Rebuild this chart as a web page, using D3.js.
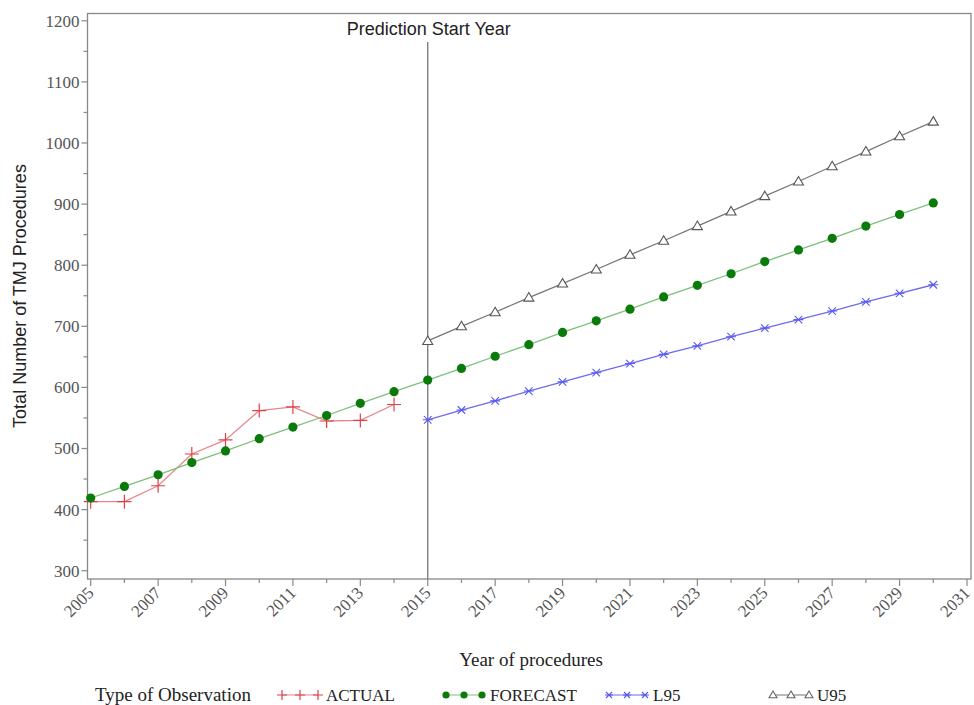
<!DOCTYPE html>
<html><head><meta charset="utf-8">
<script src="https://cdn.jsdelivr.net/npm/d3@7"></script>
<style>body{margin:0;background:#fff}</style>
</head><body>
<svg id="c" width="974" height="705"></svg>
<script>
const actualYears = [2005,2006,2007,2008,2009,2010,2011,2012,2013,2014];
const actualValues = [413,413,439,491,514,562,568,545,546,572];
const forecastYears = d3.range(2005, 2031);
const forecastValues = [419,438,457,477,496,516,535,554,574,593,612,631,651,670,690,709,728,748,767,786,806,825,844,864,883,902];
const boundYears = d3.range(2015, 2031);
const l95Values = [547,563,578,594,609,624,639,654,668,683,697,711,725,740,754,768];
const u95Values = [676,700,723,747,770,793,817,840,864,888,913,937,962,986,1011,1035];
const xTicks = [2005,2007,2009,2011,2013,2015,2017,2019,2021,2023,2025,2027,2029,2031];
const yTicks = [300,400,500,600,700,800,900,1000,1100,1200];
const predictionYear = 2015;

const svg = d3.select("#c");
const x = d3.scaleLinear().domain([2005, 2031]).range([90.7, 967]);
const y = d3.scaleLinear().domain([300, 1200]).range([570.7, 20.8]);
const L = 87.5, R = 971, T = 13.5, B = 579;

// frame
svg.append("rect").attr("x", L).attr("y", T).attr("width", R - L).attr("height", B - T)
  .attr("fill", "none").attr("stroke", "#888").attr("stroke-width", 1.3);

// y axis ticks
const yAx = svg.append("g").attr("font-family", "Liberation Serif, serif").attr("font-size", 17).attr("fill", "#555");
d3.range(300, 1201, 50).forEach(v => {
  const major = v % 100 === 0;
  yAx.append("line").attr("x1", L - (major ? 6 : 4)).attr("x2", L).attr("y1", y(v)).attr("y2", y(v))
    .attr("stroke", "#888").attr("stroke-width", 1.2);
});
yTicks.forEach(v => {
  yAx.append("text").attr("x", L - 8).attr("y", y(v)).attr("dy", "0.35em").attr("text-anchor", "end").text(v);
});

// x axis ticks
const xAx = svg.append("g").attr("font-family", "Liberation Serif, serif").attr("font-size", 17).attr("fill", "#555");
d3.range(2005, 2032).forEach(v => {
  const major = (v - 2005) % 2 === 0;
  xAx.append("line").attr("x1", x(v)).attr("x2", x(v)).attr("y1", B).attr("y2", B + (major ? 7 : 4))
    .attr("stroke", "#888").attr("stroke-width", 1.2);
});
xTicks.forEach(v => {
  xAx.append("text").attr("text-anchor", "end")
    .attr("transform", `translate(${x(v) + 4},${B + 15}) rotate(-45)`).text(v);
});

// axis titles
svg.append("text").attr("x", 531).attr("y", 666).attr("text-anchor", "middle")
  .attr("font-family", "Liberation Serif, serif").attr("font-size", 19).attr("fill", "#222").text("Year of procedures");
svg.append("text").attr("transform", "translate(26,296) rotate(-90)").attr("text-anchor", "middle")
  .attr("font-family", "Liberation Sans, Arial, sans-serif").attr("font-size", 18).attr("fill", "#222")
  .text("Total Number of TMJ Procedures");

// reference line
svg.append("line").attr("x1", x(predictionYear)).attr("x2", x(predictionYear)).attr("y1", 42).attr("y2", B)
  .attr("stroke", "#777").attr("stroke-width", 1.3);
svg.append("text").attr("x", x(predictionYear) + 1).attr("y", 35).attr("text-anchor", "middle")
  .attr("font-family", "Liberation Sans, Arial, sans-serif").attr("font-size", 18).attr("fill", "#222")
  .text("Prediction Start Year");

// marker drawers
function plus(g, cx, cy, s, col) {
  g.append("path").attr("d", `M${cx - s},${cy}H${cx + s}M${cx},${cy - s}V${cy + s}`).attr("stroke", col).attr("stroke-width", 1.2).attr("fill", "none");
}
function dot(g, cx, cy, r, col) {
  g.append("circle").attr("cx", cx).attr("cy", cy).attr("r", r).attr("fill", col);
}
function star(g, cx, cy, s, col) {
  const d = s * 0.75;
  g.append("path").attr("d", `M${cx - s},${cy}H${cx + s}M${cx - d},${cy - d}L${cx + d},${cy + d}M${cx - d},${cy + d}L${cx + d},${cy - d}`)
    .attr("stroke", col).attr("stroke-width", 1.1).attr("fill", "none");
}
function tri(g, cx, cy, s, col) {
  g.append("path").attr("d", `M${cx},${cy - s}L${cx + s},${cy + s * 0.7}L${cx - s},${cy + s * 0.7}Z`)
    .attr("stroke", col).attr("stroke-width", 1.1).attr("fill", "#fff");
}

const line = d3.line().x(d => x(d[0])).y(d => y(d[1]));
const series = [
  { years: actualYears, vals: actualValues, line: "#e8868c", m: (g, a, b) => plus(g, a, b, 7, "#e0404a") },
  { years: forecastYears, vals: forecastValues, line: "#7cc07c", m: (g, a, b) => dot(g, a, b, 4.6, "#0a7a0a") },
  { years: boundYears, vals: l95Values, line: "#6b6bf0", m: (g, a, b) => star(g, a, b, 5, "#5a5af0") },
  { years: boundYears, vals: u95Values, line: "#777", m: (g, a, b) => tri(g, a, b, 5, "#555") }
];
series.forEach(s => {
  const pts = s.years.map((yr, i) => [yr, s.vals[i]]);
  svg.append("path").attr("d", line(pts)).attr("fill", "none").attr("stroke", s.line).attr("stroke-width", 1.3);
  const g = svg.append("g");
  pts.forEach(p => s.m(g, x(p[0]), y(p[1])));
});

// legend
const lg = svg.append("g").attr("font-family", "Liberation Serif, serif").attr("font-size", 17).attr("fill", "#222");
const ly = 695;
lg.append("text").attr("x", 95).attr("y", ly + 6).attr("font-size", 19).text("Type of Observation");
const legendItems = [
  { name: "ACTUAL", x0: 282, s: series[0] },
  { name: "FORECAST", x0: 446, s: series[1] },
  { name: "L95", x0: 609, s: series[2] },
  { name: "U95", x0: 773, s: series[3] }
];
legendItems.forEach(it => {
  lg.append("line").attr("x1", it.x0).attr("x2", it.x0 + 36).attr("y1", ly).attr("y2", ly).attr("stroke", it.s.line).attr("stroke-width", 1.2);
  const g = lg.append("g");
  [0, 18, 36].forEach(dx => {
    if (it.name === "ACTUAL") plus(g, it.x0 + dx, ly, 5, "#e0404a");
    else if (it.name === "FORECAST") dot(g, it.x0 + dx, ly, 3.6, "#0a7a0a");
    else if (it.name === "L95") star(g, it.x0 + dx, ly, 4, "#5a5af0");
    else tri(g, it.x0 + dx, ly, 4, "#666");
  });
  lg.append("text").attr("x", it.x0 + 44).attr("y", ly + 6).text(it.name);
});
</script>
</body></html>
